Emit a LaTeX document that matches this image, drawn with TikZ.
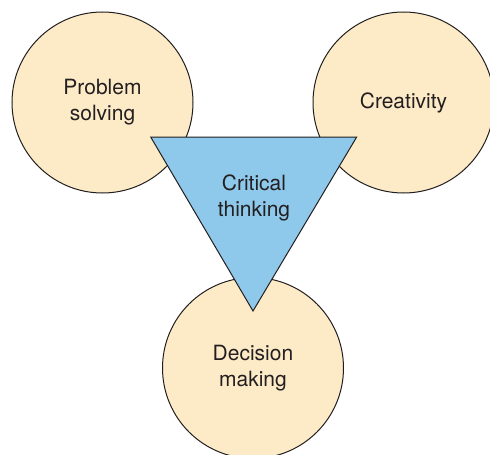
\documentclass[tikz,border=0pt]{standalone}
\usepackage{fontspec}
\setmainfont{TeX Gyre Heros}
\usepackage{tikz}
\usetikzlibrary{positioning}

\definecolor{peach}{HTML}{FDEBC8}
\definecolor{skyblue}{HTML}{8EC8EA}
\definecolor{ink}{HTML}{231F20}

\begin{document}
\begin{tikzpicture}[x=1pt,y=-1pt,line width=1pt,
      skill/.style={circle,draw=ink,fill=peach,minimum size=181pt,inner sep=0pt,
        align=center,text=ink,font=\fontsize{21}{26}\selectfont},
      core/.style={draw=ink,fill=skyblue,line join=miter}]
			\useasboundingbox (0,0) rectangle (490,455);
			\node[skill] (prob) at (102.5,102.5) {Problem\\solving};
			\node[skill] (crea) at (403.5,102.5) {Creativity};
			\node[skill] (deci) at (253,368) {Decision\\making};
			\coordinate (tl) at (150.7,137);
			\coordinate (tr) at (356.7,137);
			\coordinate (tip) at (253,311);
			\draw[core] (tl) -- (tr) -- (tip) -- cycle;
			\node[align=center,text=ink,font=\fontsize{21}{26}\selectfont] (crit) at (254,198) {Critical\\thinking};
		\end{tikzpicture}
\end{document}
